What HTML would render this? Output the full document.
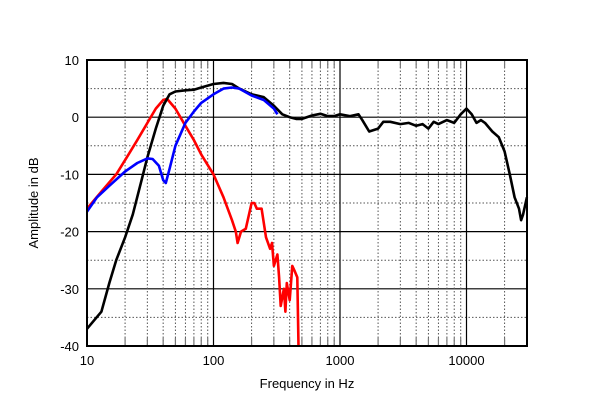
<!DOCTYPE html>
<html><head><meta charset="utf-8"><style>
body{margin:0;background:#fff;}
svg text{font-family:"Liberation Sans",Arial,sans-serif;fill:#000;}
</style></head><body>
<svg id="chart" width="600" height="411" viewBox="0 0 600 411" xmlns="http://www.w3.org/2000/svg">
<g id="grid"></g>
<g id="series"></g>
<rect x="87" y="60" width="440" height="286" fill="none" stroke="#000" stroke-width="2"/>
<g id="labels"></g>
<text x="307" y="388" font-size="13" text-anchor="middle">Frequency in Hz</text>
<text transform="translate(38,203) rotate(-90)" font-size="13" text-anchor="middle">Amplitude in dB</text>
</svg>
<script>
const yTicks=[-40,-30,-20,-10,0,10];
const xTickLabels=[10,100,1000,10000];
const blackF=[10,13,15,17,20,23,27,30,35,40,45,50,60,70,80,100,120,140,160,200,250,300,350,400,450,500,600,700,800,900,1000,1200,1400,1500,1700,2000,2200,2500,3000,3500,4000,4500,5000,5500,6000,7000,8000,9000,10000,11000,12000,13000,14000,16000,18000,20000,22000,24000,26000,27000,28000,30000];
const blackDb=[-37,-34,-29,-25,-21,-17,-11,-7,-2,2,4,4.5,4.7,4.8,5.2,5.8,6,5.8,5,4,3.5,2,0.5,0,-0.3,-0.3,0.3,0.6,0.2,0.2,0.5,0.2,0.5,-0.5,-2.5,-2,-0.8,-0.8,-1.2,-1,-1.5,-1.2,-2,-0.8,-1.2,-0.5,-1,0.5,1.5,0.5,-1,-0.5,-1,-2.5,-3.5,-6,-10,-14,-16,-18,-17,-14];
const blueF=[10,12,15,20,25,30,33,37,40,42,45,50,60,70,80,100,120,140,160,200,250,300,320];
const blueDb=[-16.5,-14,-12,-9.5,-8,-7.2,-7.3,-8.5,-11,-11.5,-9,-5,-1,1,2.5,4,5,5.2,5,3.8,3,1.5,0.5];
const redF=[10,13,17,20,25,30,35,40,43,50,60,70,80,100,120,140,150,155,165,180,200,210,220,240,260,280,290,300,320,330,340,360,370,380,400,420,440,460,470];
const redDb=[-16,-13,-10,-7.5,-4,-1,1.5,3,3.2,1.5,-1.5,-4,-6.5,-10,-14,-18,-20,-22,-20,-19.5,-15,-15,-16,-16,-21,-23,-22,-26,-24,-28,-33,-30,-34,-29,-32,-26,-27,-28,-40];
const X0=87,X1=527,Y0=60,Y1=346;
const xs=f=>X0+126.5*Math.log10(f/10);
const ys=d=>Y0+(10-d)*(Y1-Y0)/50;
const NS="http://www.w3.org/2000/svg";
function mk(tag,attrs,parent){const e=document.createElementNS(NS,tag);for(const k in attrs)e.setAttribute(k,attrs[k]);parent.appendChild(e);return e;}
const grid=document.getElementById('grid');
for(let d=-35;d<10;d+=5){
  const major=d%10===0;
  const l=mk('line',{x1:X0,x2:X1,y1:ys(d),y2:ys(d),stroke:major?'#000':'#555','stroke-width':major?1.2:1,'stroke-dasharray':major?'':'1.5,2'},grid);
  
  
}
for(let dec=10;dec<=10000;dec*=10){
  for(let m=1;m<10;m++){
    const f=dec*m; if(f>30000)break;
    const x=xs(f);
    if(m===1){
      const l=mk('line',{x1:x,x2:x,y1:Y0,y2:Y1,stroke:'#000','stroke-width':1.2},grid);
      
      
    }else{
      const l=mk('line',{x1:x,x2:x,y1:Y0,y2:Y1,stroke:'#555','stroke-width':1,'stroke-dasharray':'1.5,2'},grid);
      
      
      const t1=mk('line',{x1:x,x2:x,y1:Y0,y2:Y0+8,stroke:'#777','stroke-width':1.2},grid);
      
      
      const t2=mk('line',{x1:x,x2:x,y1:Y1-8,y2:Y1,stroke:'#777','stroke-width':1.2},grid);
      
      
    }
  }
}
const labels=document.getElementById('labels');
yTicks.forEach(v=>{
  const t=mk('text',{x:X0-8,y:ys(v)+5,'font-size':13,'text-anchor':'end'},labels);
  t.textContent=v;
  
  
});
xTickLabels.forEach(v=>{
  const t=mk('text',{x:xs(v),y:Y1+19,'font-size':13,'text-anchor':'middle'},labels);
  t.textContent=v;
  
  
});
const series=document.getElementById('series');
function draw(F,D,color,name){
  const d=F.map((f,i)=>(i?'L':'M')+xs(f).toFixed(1)+','+ys(D[i]).toFixed(1)).join('');
  const p=mk('path',{d:d,fill:'none',stroke:color,'stroke-width':2.6,'stroke-linejoin':'round'},series);
  
  
}
draw(redF,redDb,'#ff0000','red-series-line');
draw(blackF,blackDb,'#000000','black-series-line');
draw(blueF,blueDb,'#0000ff','blue-series-line');
</script>
</body></html>
